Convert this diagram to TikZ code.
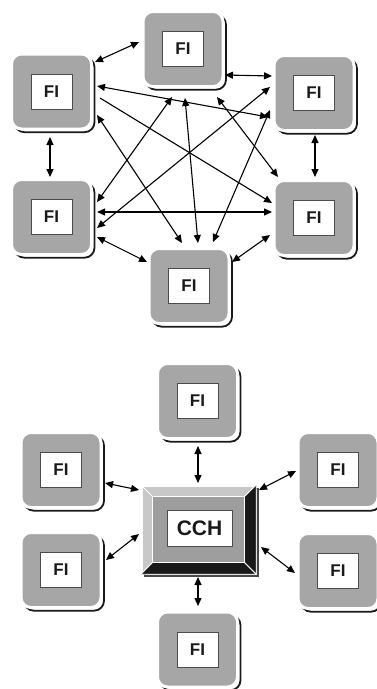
\documentclass[tikz,border=0pt]{standalone}
\usepackage{fontspec}
\setmainfont{Liberation Sans}
\usetikzlibrary{calc,arrows.meta}
\definecolor{boxgray}{RGB}{166,166,166}
\definecolor{bevlight}{RGB}{200,200,200}
\definecolor{facegray}{RGB}{158,158,158}
\definecolor{shade}{RGB}{25,25,25}
\tikzset{
  fi/.style={rectangle, rounded corners=10pt, minimum width=80pt, minimum height=75pt, inner sep=0pt,
    fill=boxgray, draw=white, line width=3pt,
    preaction={draw=shade, line width=1.8pt, transform canvas={shift={(3pt,-3.2pt)}}},
    label={[lab]center:FI}},
  lab/.style={rectangle, fill=white, draw=black!70, line width=0.8pt, minimum width=41pt,
    minimum height=35pt, inner sep=0pt, text=black!90, font=\fontsize{17}{17}\selectfont\bfseries},
  cchlab/.style={rectangle, fill=white, draw=black!70, line width=0.8pt, minimum width=65pt,
    minimum height=36pt, inner sep=0pt, text=black!90, font=\fontsize{21}{21}\selectfont\bfseries},
  cch/.style={rectangle, minimum width=113pt, minimum height=87pt, inner sep=0pt,
    fill=bevlight, draw=white, line width=2.5pt,
    preaction={draw=shade!80, line width=1.5pt, transform canvas={shift={(2.8pt,-2.8pt)}}}},
  link/.style={line width=1.1pt, {Triangle[length=8pt,width=7pt]}-{Triangle[length=8pt,width=7pt]}},
  linkone/.style={line width=1.1pt, -{Triangle[length=8pt,width=7pt]}},
  bevel/.style={fill=shade, draw=white, line width=0.6pt}
}
\begin{document}
\begin{tikzpicture}[x=1pt,y=-1pt]
\useasboundingbox (0,0) rectangle (376,689);
\fill[white] (0,0) rectangle (376,689);
% ---------- top: fully meshed ----------
\node[fi] (T)  at (183,49) {};
\node[fi] (TL) at (51.5,91.5) {};
\node[fi] (TR) at (314,93) {};
\node[fi] (ML) at (51.5,217) {};
\node[fi] (MR) at (314,218) {};
\node[fi] (B)  at (189,286) {};

\draw[link] ($(TL)+(43.5,-29.5)$) -- ($(T)+(-44,-7)$);
\draw[link] ($(T)+(42,26)$) -- ($(TR)+(-42,-17)$);
\draw[link] ($(TL)+(-1.5,45.5)$) -- ($(ML)+(-1.5,-40)$);
\draw[link] ($(TR)+(1,42)$) -- ($(MR)+(1,-41)$);
\draw[link] ($(ML)+(45.5,20)$) -- ($(B)+(-42,-24)$);
\draw[link] ($(MR)+(-44,17)$) -- ($(B)+(43,-24)$);
\draw[link] ($(TL)+(45.5,-5.5)$) -- ($(TR)+(-46,24)$);
\draw[linkone] ($(TL)+(48.5,6.5)$) -- ($(MR)+(-42,-15)$);
\draw[link] ($(TL)+(45.5,23.5)$) -- ($(B)+(-7,-43)$);
\draw[link] ($(T)+(-11,48)$) -- ($(ML)+(45.5,-15)$);
\draw[link] ($(T)+(2,49)$) -- ($(B)+(9,-43)$);
\draw[link] ($(T)+(34,48)$) -- ($(MR)+(-36,-41)$);
\draw[link] ($(TR)+(-44,-6)$) -- ($(ML)+(45.5,11)$);
\draw[link] ($(TR)+(-44,17)$) -- ($(B)+(24,-44)$);
\draw[link] ($(ML)+(45.5,-5)$) -- ($(MR)+(-42,-6)$);

% ---------- bottom: star via CCH ----------
\node[cch] (C) at (198.5,529.5) {};
\fill[bevel] (C.south west) -- (C.south east) -- ($(C.south east)+(-12,-12)$) -- ($(C.south west)+(12,-12)$) -- cycle;
\fill[bevel] (C.north east) -- (C.south east) -- ($(C.south east)+(-12,-12)$) -- ($(C.north east)+(-12,12)$) -- cycle;
\draw[white, line width=0.8pt] (C.north west) -- ($(C.north west)+(12,12)$);
\draw[white, line width=0.8pt] (C.north east) -- ($(C.north east)+(-12,12)$);
\draw[white, line width=0.8pt] (C.south west) -- ($(C.south west)+(12,-12)$);
\draw[white, line width=0.8pt] (C.south east) -- ($(C.south east)+(-12,-12)$);
\filldraw[fill=facegray, draw=white, line width=0.8pt] ($(C.north west)+(12,12)$) rectangle ($(C.south east)+(-12,-12)$);
\node[cchlab] (CL) at ($(C)+(1,-1.5)$) {CCH};

\node[fi] (ST) at (197.5,401) {};
\node[fi] (SB) at (197.5,649.5) {};
\node[fi] (SLT) at (61,470) {};
\node[fi] (SLB) at (61,570) {};
\node[fi] (SRT) at (338,470) {};
\node[fi] (SRB) at (338,571) {};

\draw[link] ($(ST)+(0.5,45)$) -- ($(C)+(-0.5,-46.5)$);
\draw[link] ($(C)+(-0.5,47.5)$) -- ($(SB)+(0.5,-43.5)$);
\draw[link] ($(SLT)+(44,13)$) -- ($(C)+(-59.5,-39.5)$);
\draw[link] ($(SLB)+(45,-10)$) -- ($(C)+(-59.5,4.5)$);
\draw[link] ($(SRT)+(-42,1)$) -- ($(C)+(60.5,-39.5)$);
\draw[link] ($(SRB)+(-43,2)$) -- ($(C)+(62.5,17.5)$);
\end{tikzpicture}
\end{document}
